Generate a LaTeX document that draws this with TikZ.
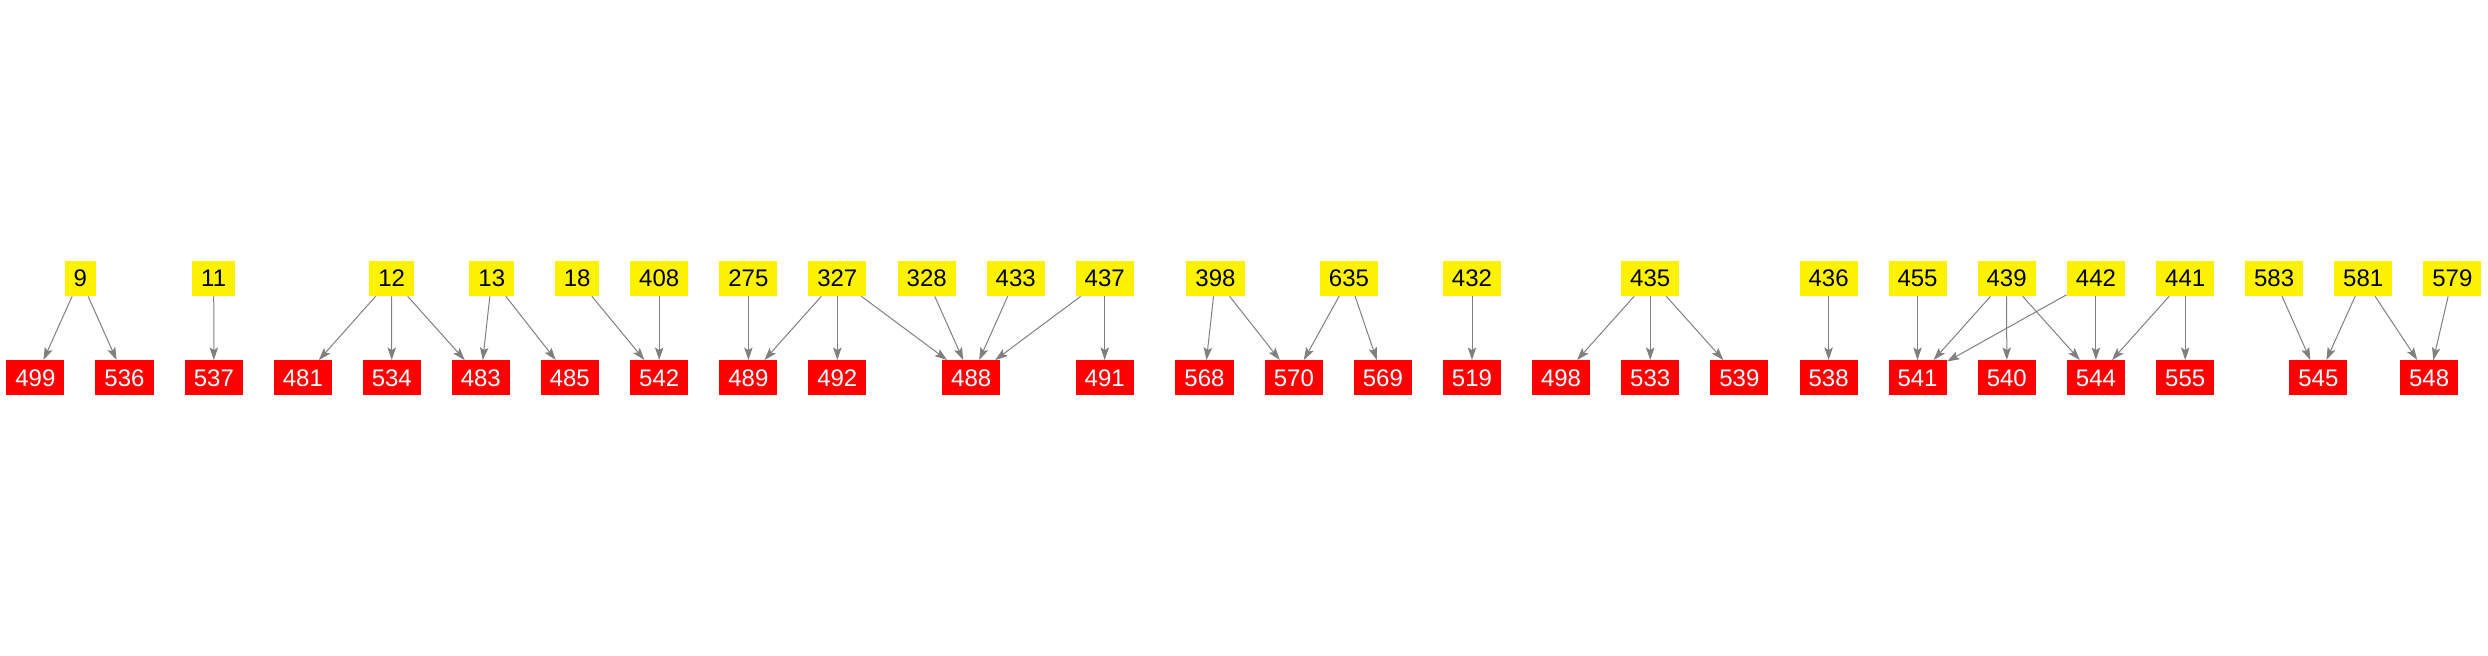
\documentclass[tikz,border=0pt]{standalone}
\usepackage{fontspec}
\setmainfont{Liberation Sans}
\usetikzlibrary{arrows.meta}
\definecolor{edgegray}{HTML}{808080}

\begin{document}
\begin{tikzpicture}[x=0.5pt, y=-0.5pt,
		src/.style={fill=yellow, text=black, inner xsep=4.5pt, inner ysep=0pt, minimum height=17.5pt, font=\fontsize{12}{14}\selectfont},
		dst/.style={fill=red, text=white, inner xsep=4.5pt, inner ysep=0pt, minimum height=17.5pt, font=\fontsize{12}{14}\selectfont},
		edge/.style={draw=edgegray, line width=0.5pt, -{Stealth[length=6.3pt, width=4.2pt, inset=1.3pt]}}]
				\useasboundingbox (0,0) rectangle (2488,656);
				% upper row
				\foreach \n/\x in {9/80.2, 11/213.7, 12/391.6, 13/491.8, 18/577.1, 408/659.2,
					275/748.4, 327/837.3, 328/926.7, 433/1015.7, 437/1104.7, 398/1215.5,
					635/1349, 432/1472, 435/1650.2, 436/1828.6, 455/1917.5, 439/2006.6,
					442/2095.9, 441/2185.2, 583/2274.1, 581/2363.2, 579/2452.3} {
					\node[src] (t\n) at (\x,278.4) {\n};
				}
				% lower row
				\foreach \n/\x in {499/35.4, 536/124.5, 537/213.9, 481/302.9, 534/391.8, 483/480.8,
					485/569.8, 542/659.2, 489/748.4, 492/837.3, 488/971.2, 491/1104.7, 568/1204.5,
					570/1293.9, 569/1382.9, 519/1472, 498/1561, 533/1650.2, 539/1739.4, 538/1828.6,
					541/1917.5, 540/2006.8, 544/2095.9, 555/2185.2, 545/2318.3, 548/2429.1} {
					\node[dst] (b\n) at (\x,378) {\n};
				}
				% edges
				\foreach \a/\b in {9/499, 9/536, 11/537, 12/481, 12/534, 12/483, 13/483, 13/485,
					18/542, 408/542, 275/489, 327/489, 327/492, 327/488, 328/488, 433/488,
					437/488, 437/491, 398/568, 398/570, 635/570, 635/569, 432/519, 435/498,
					435/533, 435/539, 436/538, 455/541, 439/541, 442/541, 439/540, 439/544,
					442/544, 441/544, 441/555, 583/545, 581/545, 581/548, 579/548} {
					\draw[edge] (t\a) -- (b\b);
				}
\end{tikzpicture}
\end{document}
